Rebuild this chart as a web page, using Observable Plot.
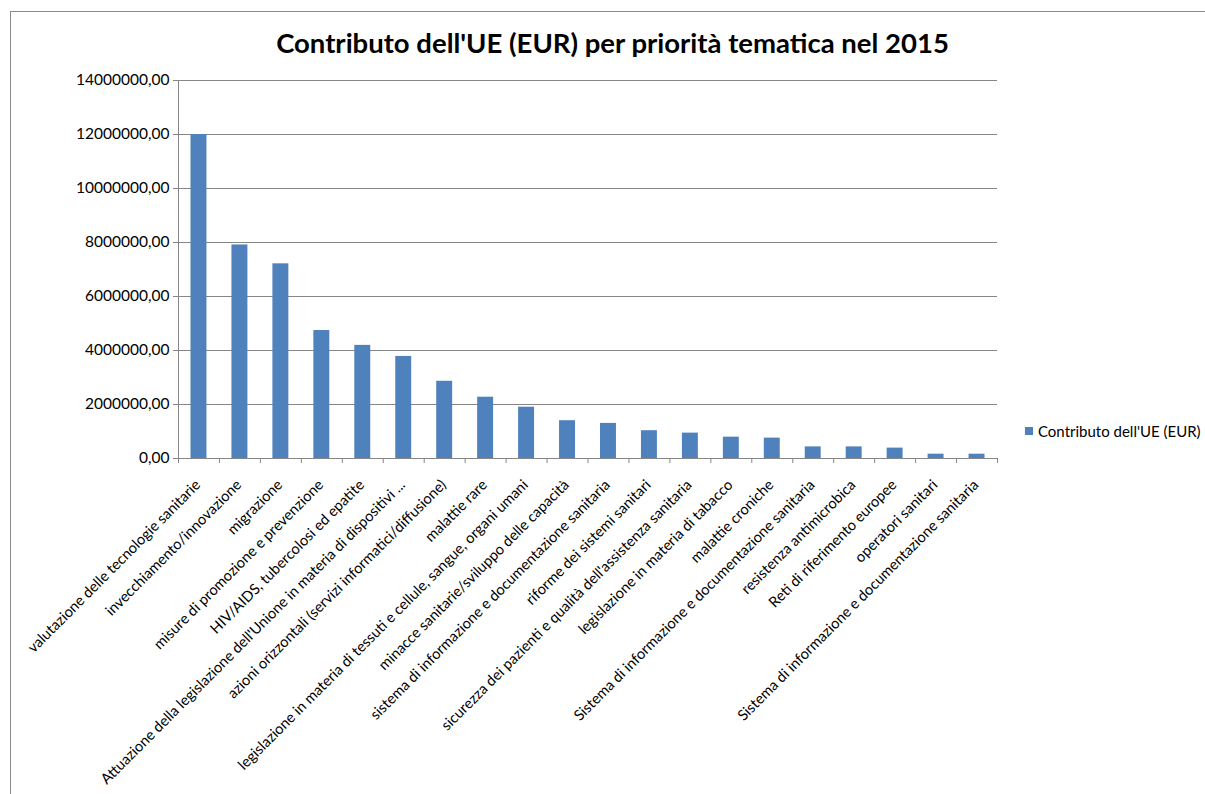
<!DOCTYPE html>
<html><head><meta charset="utf-8">
<script src="https://cdn.jsdelivr.net/npm/d3@7"></script>
<script src="https://cdn.jsdelivr.net/npm/@observablehq/plot@0.6"></script>
<style>
body{margin:0;background:#fff;}
#wrap{position:relative;width:1205px;height:794px;overflow:hidden;font-family:Lato,"Open Sans",sans-serif;color:#000;}
#frame{position:absolute;left:10px;top:11px;width:1300px;height:900px;border-top:1px solid #8a8a8a;border-left:1px solid #8a8a8a;}
#title{position:absolute;top:26px;left:0;width:1225px;text-align:center;font-weight:bold;font-size:27.5px;}
#legend{position:absolute;left:1025px;top:422px;font-size:15px;display:flex;align-items:center;}
#legend span.sw{display:inline-block;width:8px;height:8px;background:#4F81BD;margin-right:5px;}
#chart{position:absolute;left:0;top:0;}
</style></head>
<body>
<div id="wrap">
  <div id="frame"></div>
  <div id="chart"></div>
  <div id="title">Contributo dell'UE (EUR) per priorità tematica nel 2015</div>
  <div id="legend"><span class="sw"></span><span>Contributo dell'UE (EUR)</span></div>
</div>
<script>
const categories = [
  "valutazione delle tecnologie sanitarie",
  "invecchiamento/innovazione",
  "migrazione",
  "misure di promozione e prevenzione",
  "HIV/AIDS, tubercolosi ed epatite",
  "Attuazione della legislazione dell'Unione in materia di dispositivi ...",
  "azioni orizzontali (servizi informatici/diffusione)",
  "malattie rare",
  "legislazione in materia di tessuti e cellule, sangue, organi umani",
  "minacce sanitarie/sviluppo delle capacità",
  "sistema di informazione e documentazione sanitaria",
  "riforme dei sistemi sanitari",
  "sicurezza dei pazienti e qualità dell'assistenza sanitaria",
  "legislazione in materia di tabacco",
  "malattie croniche",
  "Sistema di informazione e documentazione sanitaria",
  "resistenza antimicrobica",
  "Reti di riferimento europee",
  "operatori sanitari",
  "Sistema di informazione e documentazione sanitaria"
];
const values = [
  12000000, 7910000, 7210000, 4740000, 4190000, 3780000, 2860000, 2270000, 1900000, 1400000,
  1300000, 1030000, 940000, 790000, 755000, 430000, 430000, 385000, 160000, 160000
];
const yTicks = [0, 2000000, 4000000, 6000000, 8000000, 10000000, 12000000, 14000000];
const seriesName = "Contributo dell'UE (EUR)";

const n = categories.length;
const data = categories.map((c, i) => ({c, v: values[i], i}));
const fmt = d => d3.format(".2f")(d).replace(".", ",");
const axisColor = "#868686";

const chart = Plot.plot({
  width: 1205, height: 794,
  marginLeft: 178, marginRight: 208, marginTop: 80, marginBottom: 336,
  x: {type: "linear", domain: [0, n], axis: null},
  y: {domain: [0, 14000000], axis: null},
  style: {fontFamily: "Lato, 'Open Sans', sans-serif", fontSize: "15px", color: "#000", background: "transparent", overflow: "visible"},
  marks: [
    Plot.gridY(yTicks.slice(1), {stroke: axisColor, strokeOpacity: 1}),
    Plot.rectY(data, {x1: "i", x2: d => d.i + 1, y: "v", fill: "#4F81BD", insetLeft: 12.5, insetRight: 12.5}),
    Plot.ruleX([0], {stroke: axisColor}),
    Plot.ruleY([0], {stroke: axisColor}),
    Plot.axisY(yTicks, {label: null, tickSize: 5, tickPadding: 4, tickFormat: fmt, stroke: axisColor, fill: "#000", fontSize: 15.5}),
    Plot.axisX(d3.range(n + 1), {label: null, tickSize: 5, tickFormat: () => "", stroke: axisColor}),
    Plot.text(data, {x: d => d.i + 0.5, y: 0, text: "c", rotate: -45, textAnchor: "end", dy: 24, dx: -1, fontSize: 14.7, fill: "#000"})
  ]
});
document.getElementById("chart").appendChild(chart);
</script>
</body></html>
